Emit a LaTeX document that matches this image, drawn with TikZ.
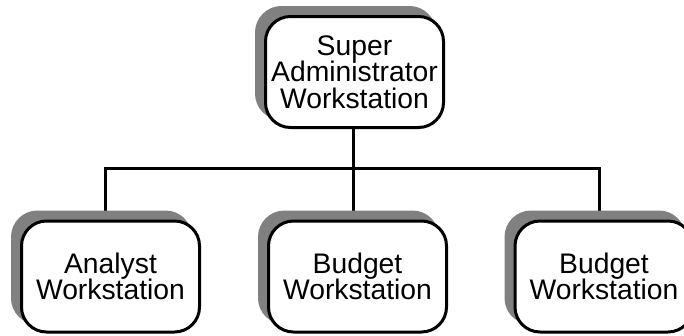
\documentclass[tikz,border=0pt]{standalone}
\usepackage{fontspec}
\setmainfont{Liberation Sans}
\usetikzlibrary{shadows,backgrounds}
\definecolor{shadowgray}{RGB}{128,128,128}
\tikzset{
  wsbox/.style={draw=black, fill=white, line width=3pt, rounded corners=25pt,
    minimum width=178pt, minimum height=111pt, inner sep=0pt, align=center,
    font=\fontsize{28.3}{26.5}\selectfont,
    general shadow={shadow xshift=-9pt, shadow yshift=9pt, fill=shadowgray, draw=shadowgray, line width=3pt}},
  conn/.style={draw=black, line width=3pt}
}
\begin{document}
\begin{tikzpicture}[x=1pt,y=-1pt]
\useasboundingbox (0,0) rectangle (684,335);
\clip (0,0) rectangle (684,335);
\coordinate (bus) at (0,168);
\node[wsbox] (sup) at (354.5,72) {Super\\Administrator\\Workstation};
\node[wsbox] (ana) at (110.5,276.5) {Analyst\\Workstation};
\node[wsbox] (bud1) at (357.5,276.5) {Budget\\Workstation};
\node[wsbox] (bud2) at (604,276.5) {Budget\\Workstation};
\begin{scope}[on background layer]
\draw[conn] ([xshift=-1.5pt]sup.south) -- ([xshift=-1.5pt]sup.south |- bud1.north);
\draw[conn] ([xshift=-5.5pt]ana.north) -- ([xshift=-5.5pt]ana.north |- bus)
  -- ([xshift=-5pt]bud2.north |- bus) -- ([xshift=-5pt]bud2.north);
\end{scope}
\end{tikzpicture}
\end{document}
